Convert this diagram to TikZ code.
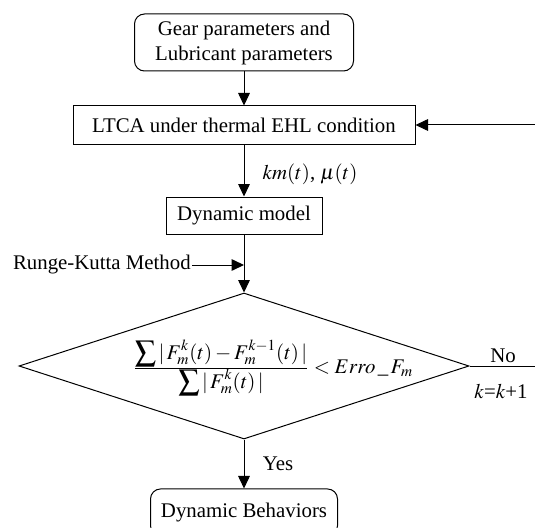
\documentclass[tikz,border=0pt]{standalone}
\usepackage{amsmath}
\usepackage{mathptmx}
\usepackage{fontspec}
\setmainfont{Liberation Serif}
\usepackage{tikz}
\usetikzlibrary{shapes.geometric, arrows.meta}
\tikzstyle{startstop} = [rectangle, rounded corners=6pt, draw=black, align=center, inner sep=0pt]
\tikzstyle{process} = [rectangle, draw=black, align=center, inner sep=0pt]
\tikzstyle{decision} = [diamond, draw=black, inner sep=0pt]
\tikzstyle{arrow} = [-{Triangle[length=7.5pt,width=7pt]}]

\begin{document}
\begin{tikzpicture}[x=0.6pt, y=-0.6pt, line width=0.6pt, font=\fontsize{12.5}{15}\selectfont]
                    \useasboundingbox (0,0) rectangle (535,527);
                    \node (in) [startstop, minimum width=131.4pt, minimum height=34.2pt] at (244,42.5) {Gear parameters and\\Lubricant parameters};
                    \node (ltca) [process, minimum width=205.2pt, minimum height=22.8pt] at (244,125) {LTCA under thermal EHL condition};
                    \node (dyn) [process, minimum width=93.6pt, minimum height=22.2pt] at (244,215.5) {Dynamic model};
                    \node (dec) [decision, minimum width=270pt, minimum height=87.6pt] at (244,366) {};
                    \node (out) [startstop, minimum width=112.2pt, minimum height=28pt] at (244,512.3) {Dynamic Behaviors};

                    \node (crit) at (273,368) {$\frac{\displaystyle\sum|\,F_m^k(t)-F_m^{k-1}(t)\,|}{\displaystyle\sum|\,F_m^k(t)\,|}<Erro\,\_\,F_m$};
                    \node (rk) [anchor=east, inner sep=0.5pt] at (192,265) {Runge-Kutta Method};
                    \node (km) [anchor=west, inner sep=0pt] at (262,174) {$km(t)$, $\mu(t)$};
                    \node (yes) at (278,464) {Yes};
                    \node (no) at (503,356) {No};
                    \node (kk) at (501,391) {$k$=$k$+1};

                    \coordinate (fb) at (535,125);
                    \coordinate (nob) at (535,366);

                    \draw[arrow] (in) -- (ltca);
                    \draw[arrow] (ltca) -- (dyn);
                    \draw[arrow] (dyn) -- (dec);
                    \draw[arrow] (rk) -- (rk -| dyn);
                    \draw[arrow] (dec) -- (out);
                    \draw[arrow] (fb) -- (ltca);
                    \draw (dec.east) -- (nob);
                \end{tikzpicture}
\end{document}
